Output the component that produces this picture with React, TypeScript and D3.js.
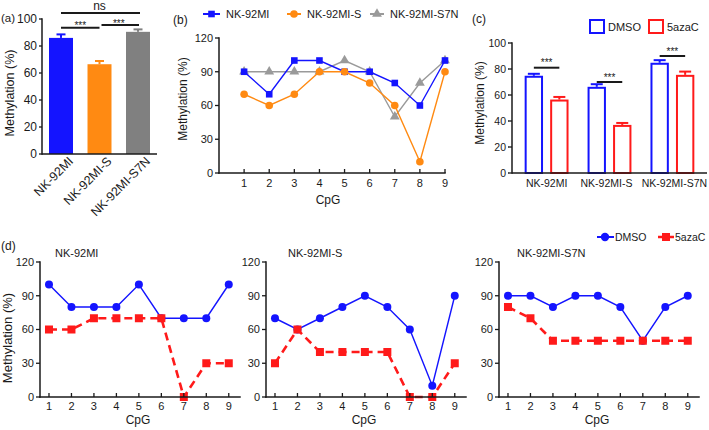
import React from 'react'
import * as d3 from 'd3'

// cell lines / groups
const lines = ['NK-92MI', 'NK-92MI-S', 'NK-92MI-S7N']
const treatments = ['DMSO', '5azaC']
const cpg = [1, 2, 3, 4, 5, 6, 7, 8, 9]

// (a) overall methylation
const barMeans = [86, 66.5, 90.5]
const barErr = [2.6, 2.4, 1.8]

// (b) methylation per CpG
const bMI = [90, 70, 100, 100, 90, 90, 80, 60, 100]
const bMIS = [70, 60, 70, 90, 90, 80, 60, 10, 90]
const bS7N = [90, 90, 90, 90, 100, 90, 50, 80, 100]

// (c) DMSO vs 5azaC
const dmsoMeans = [74.8, 66.3, 84.8]
const dmsoErr = [1.5, 2, 2]
const azaMeans = [56.5, 37, 75.5]
const azaErr = [2, 1.5, 2.5]
const sigLevels = [81, 70, 90]

// (d) per CpG, DMSO vs 5azaC
const dDmso = [
  [100, 80, 80, 80, 100, 70, 70, 70, 100],
  [70, 60, 70, 80, 90, 80, 60, 10, 90],
  [90, 90, 80, 90, 90, 80, 50, 80, 90],
]
const dAza = [
  [60, 60, 70, 70, 70, 70, 0, 30, 30],
  [30, 60, 40, 40, 40, 40, 0, 0, 30],
  [80, 70, 50, 50, 50, 50, 50, 50, 50],
]

const pctTicks = [0, 20, 40, 60, 80, 100]
const cpgTicks = [0, 30, 60, 90, 120]

const FONT = "'Liberation Sans', Arial, Helvetica, sans-serif"
const INK = '#1a1a1a'
const BLUE = '#1414ff'
const ORANGE = '#ff8a12'
const GRAY = '#9a9a9a'
const RED = '#ff1a1a'

const YAxis = ({ y, x, ticks, fs, size = 4 }) => {
  const [r0, r1] = y.range()
  return (
    <g>
      <line x1={x} x2={x} y1={r0} y2={r1} stroke={INK} strokeWidth={1.5} strokeLinecap="square" />
      {ticks.map(t => (
        <g key={t}>
          <line x1={x - size} x2={x} y1={y(t)} y2={y(t)} stroke={INK} strokeWidth={1.3} />
          <text x={x - size - 2} y={y(t)} dy="0.36em" textAnchor="end" fontSize={fs} fill={INK}>{t}</text>
        </g>
      ))}
    </g>
  )
}

const XAxisNum = ({ x, y0, ticks, fs, labelDy = 14 }) => {
  const [a, b] = x.range()
  return (
    <g>
      <line x1={a} x2={b} y1={y0} y2={y0} stroke={INK} strokeWidth={1.5} strokeLinecap="square" />
      {ticks.map(t => (
        <g key={t}>
          <line x1={x(t)} x2={x(t)} y1={y0} y2={y0 - 4} stroke={INK} strokeWidth={1.3} />
          <text x={x(t)} y={y0 + labelDy} textAnchor="middle" fontSize={fs} fill={INK}>{t}</text>
        </g>
      ))}
    </g>
  )
}

const YLabel = ({ x, y, fs, text = 'Methylation (%)' }) => (
  <text transform={`translate(${x},${y}) rotate(-90)`} textAnchor="middle" fontSize={fs} fill={INK}>{text}</text>
)

const Stars = ({ x, y, fs = 10 }) => (
  <text x={x} y={y} textAnchor="middle" fontSize={fs} fill={INK}>***</text>
)

const PanelA = () => {
  const y = d3.scaleLinear([0, 100], [154, 19])
  const x = d3.scaleBand(lines, [42, 157]).paddingInner(0.377).paddingOuter(0.182)
  const colors = [BLUE, ORANGE, '#808080']
  const cx = i => x(lines[i]) + x.bandwidth() / 2
  const brackets = [
    { a: 0, b: 2, lvl: 104.5, label: 'ns', pad: [0, 2] },
    { a: 0, b: 1, lvl: 93.5, label: '***', pad: [0, 0] },
    { a: 1, b: 2, lvl: 95.5, label: '***', pad: [2, 1] },
  ]
  return (
    <g>
      <text x={1} y={22} fontSize={11.5} fill={INK}>(a)</text>
      {lines.map((l, i) => (
        <g key={l}>
          <rect x={x(l)} y={y(barMeans[i])} width={x.bandwidth()} height={y(0) - y(barMeans[i])} fill={colors[i]} />
          <line x1={cx(i)} x2={cx(i)} y1={y(barMeans[i])} y2={y(barMeans[i] + barErr[i])} stroke={colors[i]} strokeWidth={2} />
          <line x1={cx(i) - 4.5} x2={cx(i) + 4.5} y1={y(barMeans[i] + barErr[i])} y2={y(barMeans[i] + barErr[i])} stroke={colors[i]} strokeWidth={2} />
          <text transform={`translate(${cx(i) + 13},${162}) rotate(-45)`} textAnchor="end" fontSize={12.5} fill={INK}>{l}</text>
        </g>
      ))}
      <line x1={42} x2={157} y1={154} y2={154} stroke={INK} strokeWidth={1.5} />
      <YAxis y={y} x={42} ticks={pctTicks} fs={12} size={3} />
      <YLabel x={14} y={93} fs={12.5} />
      {brackets.map((br, i) => (
        <g key={i}>
          <line x1={cx(br.a) + br.pad[0]} x2={cx(br.b) + br.pad[1]} y1={y(br.lvl)} y2={y(br.lvl)} stroke={INK} strokeWidth={2} />
          {br.label === 'ns'
            ? <text x={(cx(br.a) + cx(br.b)) / 2} y={y(br.lvl) - 3} textAnchor="middle" fontSize={12} fill={INK}>ns</text>
            : <Stars x={(cx(br.a) + cx(br.b)) / 2} y={y(br.lvl) + 1.5} />}
        </g>
      ))}
    </g>
  )
}

const PanelB = () => {
  const x = d3.scaleLinear([0, 9], [219, 445])
  const y = d3.scaleLinear([0, 120], [173, 38])
  const line = d3.line<number>().x((_, i) => x(cpg[i])).y(d => y(d))
  const tri = d3.symbol(d3.symbolTriangle, 42)()
  const series = [
    { name: 'NK-92MI', data: bMI, color: BLUE, shape: 'square' },
    { name: 'NK-92MI-S', data: bMIS, color: ORANGE, shape: 'circle' },
    { name: 'NK-92MI-S7N', data: bS7N, color: GRAY, shape: 'triangle' },
  ]
  const marker = (shape, color, px, py) => {
    if (shape === 'square') return <rect x={px - 3.3} y={py - 3.3} width={6.6} height={6.6} fill={color} />
    if (shape === 'circle') return <circle cx={px} cy={py} r={3.8} fill={color} />
    return <path d={tri} transform={`translate(${px},${py})`} fill={color} />
  }
  const drawOrder = [2, 0, 1]
  const legendX = [203, 287, 370]
  const legendW = [17, 14, 14]
  return (
    <g>
      <text x={173} y={24} fontSize={12} fill={INK}>(b)</text>
      {series.map((s, i) => (
        <g key={s.name}>
          <line x1={legendX[i]} x2={legendX[i] + legendW[i]} y1={14} y2={14} stroke={s.color} strokeWidth={2} />
          {marker(s.shape, s.color, legendX[i] + legendW[i] / 2, 14)}
          <text x={legendX[i] + legendW[i] + 6} y={18} fontSize={11} fill={INK}>{s.name}</text>
        </g>
      ))}
      {drawOrder.map(k => {
        const s = series[k]
        return (
          <g key={s.name}>
            <path d={line(s.data)} fill="none" stroke={s.color} strokeWidth={1.4} />
            {s.data.map((v, i) => <g key={i}>{marker(s.shape, s.color, x(cpg[i]), y(v))}</g>)}
          </g>
        )
      })}
      <XAxisNum x={x} y0={173} ticks={cpg} fs={11} />
      <YAxis y={y} x={219} ticks={cpgTicks} fs={11} />
      <YLabel x={187} y={99} fs={12} />
      <text x={328} y={204} textAnchor="middle" fontSize={12} fill={INK}>CpG</text>
    </g>
  )
}

const PanelC = () => {
  const y = d3.scaleLinear([0, 100], [173, 43])
  const x = d3.scaleBand(lines, [512, 707]).paddingInner(0.1).paddingOuter(0.1)
  const inner = d3.scaleBand(treatments, [0, x.bandwidth()]).paddingInner(0.28).paddingOuter(0.25)
  const groups = [
    { t: 'DMSO', means: dmsoMeans, errs: dmsoErr, color: BLUE },
    { t: '5azaC', means: azaMeans, errs: azaErr, color: RED },
  ]
  const bw = inner.bandwidth()
  return (
    <g>
      <text x={472} y={23} fontSize={12} fill={INK}>(c)</text>
      {groups.map((g, gi) => (
        <g key={g.t}>
          <rect x={[589, 648][gi] + 1} y={20} width={14} height={13} fill="white" stroke={g.color} strokeWidth={2} />
          <text x={[608, 667][gi]} y={31} fontSize={11} fill={INK}>{g.t}</text>
        </g>
      ))}
      {lines.map((l, li) => (
        <g key={l}>
          {groups.map(g => {
            const bx = x(l) + inner(g.t)
            const v = g.means[li]
            const e = g.errs[li]
            const c = bx + bw / 2
            return (
              <g key={g.t}>
                <line x1={c} x2={c} y1={y(v)} y2={y(v + e)} stroke={g.color} strokeWidth={2} />
                <line x1={c - 6} x2={c + 6} y1={y(v + e)} y2={y(v + e)} stroke={g.color} strokeWidth={2} />
                <rect x={bx + 1} y={y(v) + 1} width={bw - 2} height={y(0) - y(v) - 1} fill="white" stroke={g.color} strokeWidth={2} />
              </g>
            )
          })}
          <line x1={x(l) + inner('DMSO') + bw / 2} x2={x(l) + inner('5azaC') + bw / 2} y1={y(sigLevels[li])} y2={y(sigLevels[li])} stroke={INK} strokeWidth={2} />
          <Stars x={x(l) + x.bandwidth() / 2} y={y(sigLevels[li]) - 1.5} />
          <text x={x(l) + x.bandwidth() / 2 + (li === 2 ? 2 : li === 1 ? -3 : 0)} y={187} textAnchor="middle" fontSize={10.5} fill={INK}>{l}</text>
        </g>
      ))}
      <line x1={512} x2={707} y1={173} y2={173} stroke={INK} strokeWidth={1.5} />
      <YAxis y={y} x={512} ticks={pctTicks} fs={10.5} />
      <YLabel x={484} y={103} fs={12} />
    </g>
  )
}

const PanelD = () => {
  const y = d3.scaleLinear([0, 120], [397, 262])
  const origins = [40, 266, 499]
  const titleX = [55, 288, 517]
  return (
    <g>
      <text x={1} y={250} fontSize={12} fill={INK}>(d)</text>
      <line x1={597} x2={614} y1={237} y2={237} stroke={BLUE} strokeWidth={2} />
      <circle cx={605} cy={237} r={4.2} fill={BLUE} />
      <text x={615} y={241} fontSize={10.5} fill={INK}>DMSO</text>
      <line x1={658} x2={674} y1={237} y2={237} stroke={RED} strokeWidth={2.5} />
      <rect x={662} y={233} width={8} height={8} fill={RED} />
      <text x={675} y={241} fontSize={10.5} fill={INK}>5azaC</text>
      {lines.map((l, k) => {
        const x = d3.scaleLinear([0.6, 9.5], [origins[k], origins[k] + 200])
        const line = d3.line<number>().x((_, i) => x(cpg[i])).y(d => y(d))
        return (
          <g key={l}>
            <text x={titleX[k]} y={257} fontSize={11} fill={INK}>{l}</text>
            <path d={line(dDmso[k])} fill="none" stroke={BLUE} strokeWidth={1.4} />
            {dDmso[k].map((v, i) => <circle key={i} cx={x(cpg[i])} cy={y(v)} r={4} fill={BLUE} />)}
            <path d={line(dAza[k])} fill="none" stroke={RED} strokeWidth={2.6} strokeDasharray="8,5" />
            {dAza[k].map((v, i) => <rect key={i} x={x(cpg[i]) - 4} y={y(v) - 4} width={8} height={8} fill={RED} />)}
            <XAxisNum x={x} y0={397} ticks={cpg} fs={11} labelDy={13} />
            <YAxis y={y} x={origins[k]} ticks={cpgTicks} fs={11} />
            <text x={origins[k] + 98} y={424} textAnchor="middle" fontSize={12} fill={INK}>CpG</text>
          </g>
        )
      })}
      <YLabel x={12} y={338} fs={13} />
    </g>
  )
}

export default function App() {
  return (
    <svg width={709} height={430} style={{ position: 'absolute', left: 0, top: 0, background: 'white' }} fontFamily={FONT}>
      <rect width={709} height={430} fill="white" />
      <PanelA />
      <PanelB />
      <PanelC />
      <PanelD />
    </svg>
  )
}
